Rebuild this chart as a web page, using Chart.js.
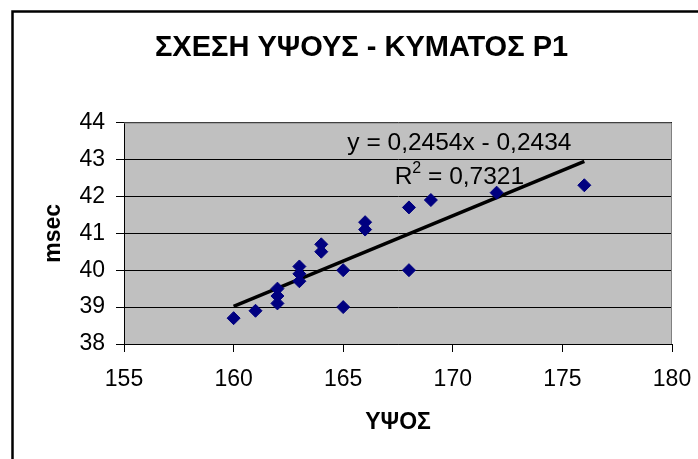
<!DOCTYPE html>
<html>
<head>
<meta charset="utf-8">
<script src="https://cdn.jsdelivr.net/npm/chart.js@4.4.0/dist/chart.umd.min.js"></script>
<style>
  html, body { margin: 0; padding: 0; background: #fff; }
  canvas { display: block; }
</style>
</head>
<body>
<canvas id="chart" width="698" height="459"></canvas>
<script>
// Height (cm) vs P1 wave duration (msec)
const heightCm = [160, 161, 162, 162, 162, 163, 163, 163, 164, 164, 165, 165, 166, 166, 168, 168, 169, 172, 176];
const p1Msec   = [38.7, 38.9, 39.1, 39.3, 39.5, 40.1, 39.9, 39.7, 40.7, 40.5, 40.0, 39.0, 41.3, 41.1, 41.7, 40.0, 41.9, 42.1, 42.3];

// linear trend line ends
const trendX = [160, 176];
const trendY = [39.02, 42.95];

const titleText = 'ΣΧΕΣΗ ΥΨΟΥΣ - ΚΥΜΑΤΟΣ P1';
const xTitle = 'ΥΨΟΣ';
const yTitle = 'msec';
const eqText = 'y = 0,2454x - 0,2434';
const r2Text = '0,7321';

const FONT = "'Liberation Sans', Arial, sans-serif";
Chart.defaults.font.family = FONT;
Chart.defaults.color = '#000';

const points = heightCm.map((x, i) => ({ x: x, y: p1Msec[i] }));
const trend = trendX.map((x, i) => ({ x: x, y: trendY[i] }));

// frame, grey plot area, and the trend line label
const excelLook = {
    id: 'excelLook',
    beforeDraw(chart) {
        const { ctx, chartArea: a } = chart;
        ctx.save();
        ctx.fillStyle = '#fff';
        ctx.fillRect(0, 0, chart.width, chart.height);
        ctx.strokeStyle = '#000';
        ctx.lineWidth = 2.5;
        ctx.strokeRect(12.5, 11.5, 800, 600);
        ctx.fillStyle = '#c0c0c0';
        ctx.fillRect(a.left, a.top, a.right - a.left, a.bottom - a.top);
        ctx.restore();
    },
    beforeDatasetsDraw(chart) {
        const { ctx, chartArea: a } = chart;
        ctx.save();
        ctx.strokeStyle = '#808080';
        ctx.lineWidth = 1;
        ctx.beginPath();
        ctx.moveTo(a.left, a.top + 0.5);
        ctx.lineTo(a.right - 0.5, a.top + 0.5);
        ctx.lineTo(a.right - 0.5, a.bottom);
        ctx.stroke();
        ctx.restore();
    },
    afterDatasetsDraw(chart) {
        const { ctx, scales } = chart;
        const cx = scales.x.getPixelForValue(170.3);
        const y1 = scales.y.getPixelForValue(43.43);
        const y2 = scales.y.getPixelForValue(42.53);
        ctx.save();
        ctx.fillStyle = '#000';
        ctx.textBaseline = 'middle';
        ctx.font = '24.5px ' + FONT;
        ctx.textAlign = 'center';
        ctx.fillText(eqText, cx, y1);

        // R² line: R, superscript 2, rest
        ctx.textAlign = 'left';
        const wR = ctx.measureText('R').width;
        const rest = ' = ' + r2Text;
        const wRest = ctx.measureText(rest).width;
        ctx.font = '16px ' + FONT;
        const w2 = ctx.measureText('2').width;
        const total = wR + w2 + wRest;
        let x = cx - total / 2;
        ctx.font = '24.5px ' + FONT;
        ctx.fillText('R', x, y2);
        x += wR;
        ctx.font = '16px ' + FONT;
        ctx.fillText('2', x, y2 - 8);
        x += w2;
        ctx.font = '24.5px ' + FONT;
        ctx.fillText(rest, x, y2);
        ctx.restore();
    }
};

new Chart(document.getElementById('chart'), {
    type: 'scatter',
    data: {
        datasets: [
            {
                label: 'P1',
                data: points,
                pointStyle: 'rectRot',
                pointRadius: 6.5,
                pointHoverRadius: 6.5,
                backgroundColor: '#000080',
                borderColor: '#000080',
                borderWidth: 1,
                order: 1
            },
            {
                label: 'Trend',
                type: 'line',
                data: trend,
                borderColor: '#000',
                borderWidth: 3.5,
                pointRadius: 0,
                fill: false,
                order: 2
            }
        ]
    },
    options: {
        responsive: false,
        animation: false,
        layout: { padding: { left: 51, right: 26, top: 0, bottom: 0 } },
        plugins: {
            legend: { display: false },
            tooltip: { enabled: false },
            title: {
                display: true,
                text: titleText,
                font: { size: 29, weight: 'bold' },
                color: '#000',
                padding: { top: 30.2, bottom: 57.5 }
            }
        },
        scales: {
            x: {
                type: 'linear',
                min: 155,
                max: 180,
                ticks: { stepSize: 5, padding: 14, font: { size: 23 }, color: '#000' },
                grid: { drawOnChartArea: false, drawTicks: true, tickLength: 8, color: '#000' },
                border: { color: '#000', width: 1 },
                title: {
                    display: true,
                    text: xTitle,
                    font: { size: 23, weight: 'bold' },
                    color: '#000',
                    padding: { top: 0, bottom: 23 }
                },
                afterFit(scale) {
                    scale.height = 115;
                    scale.paddingLeft = 0;
                    scale.paddingRight = 0;
                }
            },
            y: {
                type: 'linear',
                min: 38,
                max: 44,
                ticks: { stepSize: 1, padding: 11, font: { size: 23 }, color: '#000' },
                grid: { color: '#000', lineWidth: 1, tickLength: 8 },
                border: { color: '#000', width: 1 },
                title: {
                    display: true,
                    text: yTitle,
                    font: { size: 23, weight: 'bold' },
                    color: '#000',
                    padding: { top: -11, bottom: 0 }
                },
                afterFit(scale) {
                    scale.width = 73;
                    scale.paddingTop = 0;
                    scale.paddingBottom = 0;
                }
            }
        }
    },
    plugins: [excelLook]
});
</script>
</body>
</html>
